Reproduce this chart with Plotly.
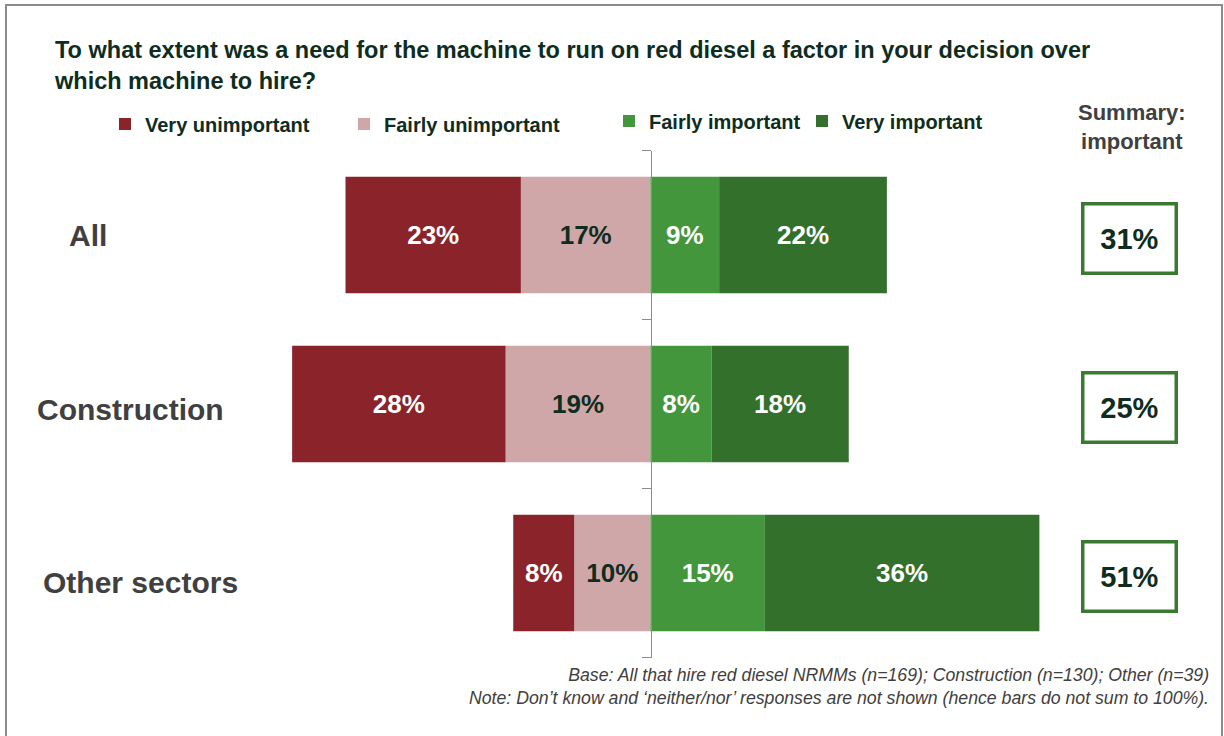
import plotly.graph_objects as go

W, H = 1224, 736

categories = ["All", "Construction", "Other sectors"]
very_unimportant = [23, 28, 8]
fairly_unimportant = [17, 19, 10]
fairly_important = [9, 8, 15]
very_important = [22, 18, 36]
summary_important = [31, 25, 51]

title_text = ("To what extent was a need for the machine to run on red diesel a factor in your decision over"
              "<br>which machine to hire?")
summary_header = "Summary:<br>important"
footnote = ("Base: All that hire red diesel NRMMs (n=169); Construction (n=130); Other (n=39)<br>"
            "Note: Don\u2019t know and \u2018neither/nor\u2019 responses are not shown (hence bars do not sum to 100%).")

C_VU = "#8B242A"
C_FU = "#D0A7A8"
C_FI = "#43963B"
C_VI = "#33702B"
DARK = "#0E2D20"
GREY = "#404040"
FONT = "Liberation Sans, Arial, sans-serif"

ypos = list(range(len(categories)))

# pixel layout helpers
px_per_pct = 7.625
x_zero_px = 650.5
plot_l_px, plot_r_px = 200, 1100
plot_top_px, plot_bot_px = 150.5, 657.5

def px(xp):
    return xp / W

def py(yp):
    return 1 - yp / H

xmin = -(x_zero_px - plot_l_px) / px_per_pct
xmax = (plot_r_px - x_zero_px) / px_per_pct

fig = go.Figure()

series = [
    ("Fairly unimportant", [-v for v in fairly_unimportant], fairly_unimportant, C_FU, DARK, "legend2"),
    ("Very unimportant", [-v for v in very_unimportant], very_unimportant, C_VU, "white", "legend"),
    ("Fairly important", fairly_important, fairly_important, C_FI, "white", "legend3"),
    ("Very important", very_important, very_important, C_VI, "white", "legend4"),
]

for name, xs, labels, color, tcolor, leg in series:
    fig.add_trace(go.Bar(
        name=name, y=ypos, x=xs, orientation="h",
        marker=dict(color=color, line=dict(width=0)),
        width=0.69,
        text=[f"{v}%" for v in labels],
        textposition="inside", insidetextanchor="middle",
        textangle=0, constraintext="none",
        textfont=dict(family=FONT, size=26, color=tcolor, weight="bold"),
        hoverinfo="skip",
        legend=leg,
    ))

legend_common = dict(
    orientation="h", bgcolor="rgba(0,0,0,0)", borderwidth=0,
    font=dict(family=FONT, size=20, color=DARK, weight="bold"),
    xanchor="left", yanchor="middle",
)
legend_pos = {
    "legend": (145, 124),
    "legend2": (384, 124),
    "legend3": (649, 121),
    "legend4": (842, 121),
}
legends = {}
for k, (tx, ty) in legend_pos.items():
    d = dict(legend_common)
    d["x"] = px(tx - 40)
    d["y"] = py(ty)
    legends[k] = d

annotations = []
# category labels
label_x = [88, 130, 140]
label_shift = [0, -5, -9]
for i, cat in enumerate(categories):
    annotations.append(dict(
        x=px(label_x[i]), xref="paper", y=ypos[i], yref="y",
        text=f"<b>{cat}</b>", showarrow=False, xanchor="center", yanchor="middle",
        yshift=label_shift[i],
        font=dict(family=FONT, size=30, color=GREY),
    ))
# summary boxes
for i, v in enumerate(summary_important):
    annotations.append(dict(
        x=px(1129), xref="paper", y=ypos[i], yref="y",
        text=f"<b>{v}%</b>", showarrow=False, xanchor="center", yanchor="middle",
        yshift=-3,
        width=86, height=62, borderpad=2, borderwidth=3.5,
        bordercolor="#3A7A30", bgcolor="white",
        font=dict(family=FONT, size=29, color=DARK),
    ))
# summary header
annotations.append(dict(
    x=px(1132), xref="paper", y=py(127), yref="paper",
    text=f"<b>{summary_header}</b>", showarrow=False, xanchor="center", yanchor="middle",
    font=dict(family=FONT, size=22, color=GREY),
))
# footnote
annotations.append(dict(
    x=px(1211), xref="paper", y=py(686), yref="paper",
    text=footnote, showarrow=False, xanchor="right", yanchor="middle", align="right",
    font=dict(family=FONT, size=17.7, color=GREY, style="italic"),
))

fig.update_layout(
    width=W, height=H,
    margin=dict(l=0, r=0, t=0, b=0),
    paper_bgcolor="white", plot_bgcolor="rgba(0,0,0,0)",
    barmode="relative",
    showlegend=True,
    title=dict(
        text=f"<b>{title_text}</b>",
        x=px(55), xanchor="left", xref="paper",
        y=py(58), yanchor="top", yref="paper",
        font=dict(family=FONT, size=23.5, color=DARK),
    ),
    xaxis=dict(visible=False, range=[xmin, xmax], domain=[px(plot_l_px), px(plot_r_px)],
               fixedrange=True),
    yaxis=dict(
        range=[len(categories) - 0.5, -0.5],
        domain=[py(plot_bot_px), py(plot_top_px)],
        anchor="free", position=px(x_zero_px),
        showline=True, linecolor="#8C8C8C", linewidth=1,
        ticks="outside", ticklen=9, tickcolor="#8C8C8C", tickwidth=1,
        tickvals=[i - 0.5 for i in range(len(categories) + 1)],
        showticklabels=False, showgrid=False, zeroline=False, fixedrange=True,
    ),
    annotations=annotations,
    shapes=[dict(type="rect", xref="paper", yref="paper",
                 x0=px(6), x1=px(1222), y0=-0.05, y1=py(5),
                 line=dict(color="#8C8C8C", width=2), fillcolor="rgba(0,0,0,0)", layer="below")],
    **legends,
)

fig.write_html("out.html", config={"displayModeBar": False})
